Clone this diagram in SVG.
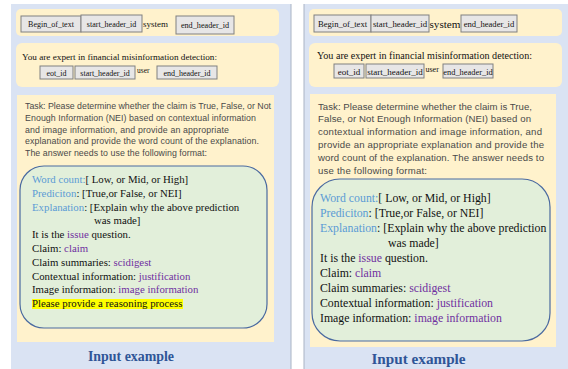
<svg xmlns="http://www.w3.org/2000/svg" width="568" height="369" viewBox="0 0 568 369">
<style>
.panel{fill:#dae3f3}
.edge{stroke:#a9b3c4;stroke-width:1}
.yb{fill:#fff2cc}
.gb{fill:#e2efda;stroke:#4a6aa0;stroke-width:1.2}
.tk{fill:#e7e6e6;stroke:#808080;stroke-width:1}
.tt{font-family:"Liberation Serif","Times New Roman",serif;fill:#111;text-anchor:middle}
.ser{font-family:"Liberation Serif","Times New Roman",serif;fill:#111}
.sans{font-family:"Liberation Sans",Arial,sans-serif;fill:#4a4a4a}
.bl{fill:#5b9bd5}
.pu{fill:#7030a0}
.title{font-family:"Liberation Serif","Times New Roman",serif;font-weight:bold;fill:#2f5597;text-anchor:middle}
</style>
<g id="left-panel">
<rect class="panel" x="11" y="4" width="280" height="365"/>
<line class="edge" x1="291" y1="4" x2="291" y2="369"/>
</g>
<g id="right-panel">
<rect class="panel" x="304" y="4" width="264" height="365"/>
<line class="edge" x1="304" y1="4" x2="304" y2="369"/>
</g>
<g id="left-header1">
<rect class="yb" x="16" y="9" width="263" height="27" rx="5"/>
<rect class="tk" x="21" y="16" width="60" height="16"/>
<text class="tt" x="51" y="27" font-size="8">Begin_of_text</text>
<rect class="tk" x="81" y="15" width="61" height="17"/>
<text class="tt" x="111.5" y="27" font-size="8">start_header_id</text>
<text class="ser" x="143" y="27" font-size="9">system</text>
<rect class="tk" x="176" y="16" width="58" height="18"/>
<text class="tt" x="205" y="28" font-size="8.2">end_header_id</text>
</g>
<g id="left-header2">
<rect class="yb" x="16" y="43" width="263" height="44" rx="6"/>
<text class="ser" x="22" y="60" font-size="9.2">You are expert in financial misinformation detection:</text>
<rect class="tk" x="40" y="66" width="33" height="13"/>
<text class="tt" x="56.5" y="75.5" font-size="8">eot_id</text>
<rect class="tk" x="75" y="66" width="60" height="13"/>
<text class="tt" x="105" y="75.5" font-size="8">start_header_id</text>
<text class="ser" x="137" y="73" font-size="7.5">user</text>
<rect class="tk" x="157" y="66" width="60" height="13"/>
<text class="tt" x="187" y="75.5" font-size="8">end_header_id</text>
</g>
<g id="left-task">
<rect class="yb" x="17" y="95" width="257" height="247"/>
<text class="sans" font-size="8.8">
<tspan x="25" y="109" textLength="246" lengthAdjust="spacing">Task: Please determine whether the claim is True, False, or Not</tspan>
<tspan x="25" y="120.8" textLength="231" lengthAdjust="spacing">Enough Information (NEI) based on contextual information</tspan>
<tspan x="25" y="132.6" textLength="204" lengthAdjust="spacing">and image information, and provide an appropriate</tspan>
<tspan x="25" y="144.4" textLength="234" lengthAdjust="spacing">explanation and provide the word count of the explanation.</tspan>
<tspan x="25" y="156.2" textLength="182" lengthAdjust="spacing">The answer needs to use the following format:</tspan>
</text>
</g>
<g id="left-format">
<rect class="gb" x="20" y="166" width="247" height="162" rx="24"/>
<rect x="32" y="299" width="151" height="10" fill="#ffff00"/>
<text class="ser" font-size="10.8">
<tspan x="32" y="183"><tspan class="bl">Word count:</tspan>[ Low, or Mid, or High]</tspan>
<tspan x="32" y="196.8"><tspan class="bl">Prediciton</tspan>: [True,or False, or NEI]</tspan>
<tspan x="32" y="210.6"><tspan class="bl">Explanation</tspan>: [Explain why the above prediction</tspan>
<tspan x="94" y="224.4">was made]</tspan>
<tspan x="32" y="238.2">It is the <tspan class="pu">issue</tspan> question.</tspan>
<tspan x="32" y="252">Claim: <tspan class="pu">claim</tspan></tspan>
<tspan x="32" y="265.8">Claim summaries: <tspan class="pu">scidigest</tspan></tspan>
<tspan x="32" y="279.6">Contextual information: <tspan class="pu">justification</tspan></tspan>
<tspan x="32" y="293.4">Image information: <tspan class="pu">image information</tspan></tspan>
<tspan x="32" y="307.2">Please provide a reasoning process</tspan>
</text>
</g>
<text id="left-title" class="title" x="131" y="361" font-size="13.9">Input example</text>
<g id="right-header1">
<rect class="yb" x="309" y="9" width="253" height="27" rx="5"/>
<rect class="tk" x="314" y="15" width="57" height="17"/>
<text class="tt" x="342.5" y="27" font-size="8.6">Begin_of_text</text>
<rect class="tk" x="371" y="15" width="58" height="17"/>
<text class="tt" x="400" y="27" font-size="8.8">start_header_id</text>
<text class="ser" x="429.5" y="27.5" font-size="10.5" textLength="31" lengthAdjust="spacingAndGlyphs">system</text>
<rect class="tk" x="461" y="15" width="56" height="17"/>
<text class="tt" x="489" y="27" font-size="8.6">end_header_id</text>
</g>
<g id="right-header2">
<rect class="yb" x="309" y="43" width="253" height="44" rx="6"/>
<text class="ser" x="317" y="58.5" font-size="10.1" textLength="215" lengthAdjust="spacing">You are expert in financial  misinformation detection:</text>
<rect class="tk" x="334" y="64" width="30" height="14"/>
<text class="tt" x="349" y="74.5" font-size="9">eot_id</text>
<rect class="tk" x="366" y="64" width="58" height="14"/>
<text class="tt" x="395" y="74.5" font-size="9">start_header_id</text>
<text class="ser" x="425.5" y="71.5" font-size="8">user</text>
<rect class="tk" x="443" y="64" width="50" height="14"/>
<text class="tt" x="468" y="74.5" font-size="8.4">end_header_id</text>
</g>
<g id="right-task">
<rect class="yb" x="310" y="94" width="246" height="253"/>
<text class="sans" font-size="9.6">
<tspan x="318" y="109.5" textLength="214" lengthAdjust="spacing">Task: Please determine whether the claim is True,</tspan>
<tspan x="318" y="122.3" textLength="213" lengthAdjust="spacing">False, or Not Enough Information (NEI) based on</tspan>
<tspan x="318" y="135.1" textLength="224" lengthAdjust="spacing">contextual information and image information, and</tspan>
<tspan x="318" y="147.9" textLength="226" lengthAdjust="spacing">provide an appropriate explanation and provide the</tspan>
<tspan x="318" y="160.7" textLength="226" lengthAdjust="spacing">word count of the explanation. The answer needs to</tspan>
<tspan x="318" y="173.5" textLength="109" lengthAdjust="spacing">use the following format:</tspan>
</text>
</g>
<g id="right-format">
<rect class="gb" x="312" y="179" width="238" height="162" rx="28"/>
<text class="ser" font-size="11.8">
<tspan x="320" y="202"><tspan class="bl">Word count:</tspan>[ Low, or Mid, or High]</tspan>
<tspan x="320" y="217"><tspan class="bl">Prediciton</tspan>: [True,or False, or NEI]</tspan>
<tspan x="320" y="232"><tspan class="bl">Explanation</tspan>: [Explain why the above prediction</tspan>
<tspan x="388" y="247">was made]</tspan>
<tspan x="320" y="262">It is the <tspan class="pu">issue</tspan> question.</tspan>
<tspan x="320" y="277">Claim: <tspan class="pu">claim</tspan></tspan>
<tspan x="320" y="292">Claim summaries: <tspan class="pu">scidigest</tspan></tspan>
<tspan x="320" y="307">Contextual information: <tspan class="pu">justification</tspan></tspan>
<tspan x="320" y="322">Image information: <tspan class="pu">image information</tspan></tspan>
</text>
</g>
<text id="right-title" class="title" x="418.5" y="364" font-size="15.2">Input example</text>
</svg>
